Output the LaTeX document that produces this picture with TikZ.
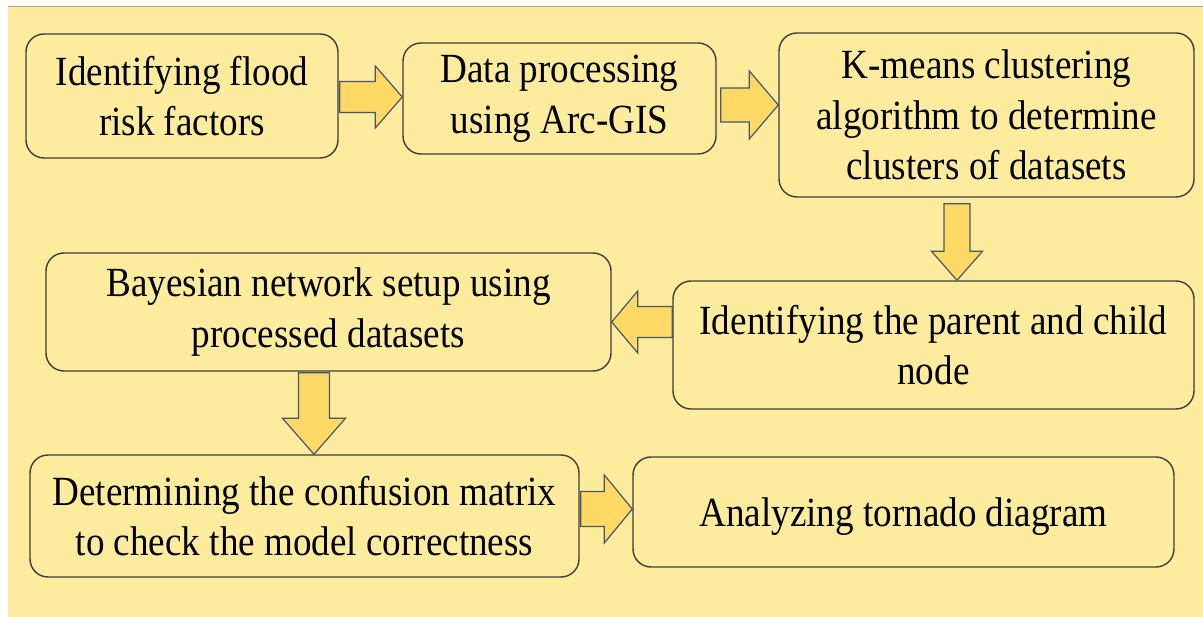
\documentclass[tikz,border=0pt]{standalone}
\usepackage{fontspec}
\setmainfont[FakeStretch=0.894]{Liberation Serif}
\usetikzlibrary{calc}
\definecolor{bg}{HTML}{FEEC9E}
\definecolor{arrowfill}{HTML}{FFD966}
\definecolor{arrowline}{HTML}{4A5568}
\definecolor{boxline}{HTML}{3C3C3C}
% block arrow: tail, tip, shaft half-width, head half-width, head length
\newcommand\blockarrow[5]{%
  \coordinate (hb) at ($(#2)!#5!(#1)$);
  \draw[blk] ($(#1)!#3!90:(#2)$) -- ($(hb)!#3!90:(#2)$) -- ($(hb)!#4!90:(#2)$)
    -- (#2) -- ($(hb)!#4!-90:(#2)$) -- ($(hb)!#3!-90:(#2)$)
    -- ($(#1)!#3!-90:(#2)$) -- cycle;
}
\begin{document}
\begin{tikzpicture}[x=1pt,y=-1pt,
  stage/.style={draw=boxline, line width=1.4pt, fill=bg, rounded corners=18pt,
    inner sep=0pt, align=center, text=black,
    font=\rmfamily\fontsize{41.5}{50.5}\selectfont},
  blk/.style={draw=arrowline, line width=1.2pt, fill=arrowfill, line join=miter}]
\useasboundingbox (0,0) rectangle (1203,617);
\fill[white] (0,0) rectangle (1203,617);
\fill[bg] (8,7) rectangle (1203,617);
\draw[gray!70, line width=1pt] (8,6.5) -- (1203,6.5);

% process stages
\node[stage, minimum width=312pt, minimum height=124pt] (b1) at (182,96)
  {Identifying flood\\risk factors};
\node[stage, minimum width=313pt, minimum height=111pt] (b2) at (559.5,98.5)
  {Data processing\\using Arc-GIS};
\node[stage, minimum width=415pt, minimum height=164pt] (b3) at (986.5,115)
  {K-means clustering\\algorithm to determine\\clusters of datasets};
\node[stage, minimum width=521pt, minimum height=128pt] (b4) at (933.5,345)
  {Identifying the parent and child\\node};
\node[stage, minimum width=565pt, minimum height=118pt] (b5) at (328.5,312)
  {Bayesian network setup using\\processed datasets};
\node[stage, minimum width=549pt, minimum height=122pt] (b6) at (304.5,516)
  {Determining the confusion matrix\\to check the model correctness};
\node[stage, minimum width=541pt, minimum height=110pt, text depth=0pt] (b7) at (903.5,512)
  {Analyzing tornado diagram};

% arrow end points
\coordinate (a1s) at ($(b1.east |- 0,97)+(1,0)$);
\coordinate (a1e) at (b2.west |- 0,97);
\coordinate (a2s) at ($(b2.east |- 0,105)+(4,0)$);
\coordinate (a2e) at (b3.west |- 0,105);
\coordinate (a3s) at ($(b3.south -| 957,0)+(0,6)$);
\coordinate (a3e) at (b4.north -| 957,0);
\coordinate (a4s) at (b4.west |- 0,322);
\coordinate (a4e) at (b5.east |- 0,322);
\coordinate (a5s) at ($(b5.south -| 314,0)+(0,1)$);
\coordinate (a5e) at (b6.north -| 314,0);
\coordinate (a6s) at ($(b6.east |- 0,509)+(1,0)$);
\coordinate (a6e) at (b7.west |- 0,509);

\blockarrow{a1s}{a1e}{15.5pt}{31pt}{27pt}
\blockarrow{a2s}{a2e}{17pt}{34pt}{29pt}
\blockarrow{a3s}{a3e}{13pt}{25.5pt}{29pt}
\blockarrow{a4s}{a4e}{15.5pt}{31pt}{26pt}
\blockarrow{a5s}{a5e}{15.5pt}{31.5pt}{36pt}
\blockarrow{a6s}{a6e}{17.5pt}{34pt}{28pt}
\end{tikzpicture}
\end{document}
